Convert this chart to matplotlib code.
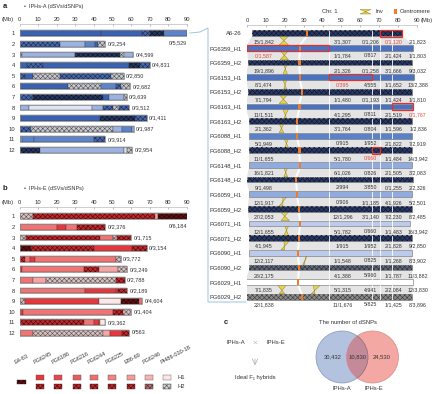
import matplotlib
matplotlib.use("Agg")
import matplotlib.pyplot as plt
from matplotlib.patches import Polygon, Rectangle, Circle

plt.rcParams['font.family'] = ['Liberation Sans', 'DejaVu Sans']
plt.rcParams['hatch.linewidth'] = 0.4

# ---------------- data ----------------
A_ENDS = [[44, 66, 70, 77.5, 90], [22, 35, 40.5, 42, 46], [1.4, 30, 54, 56, 61],
          [4, 12.7, 59, 65, 70], [3, 7.5, 22, 49, 56], [26, 44, 52, 54.5, 59.5],
          [7.5, 45, 48, 56, 57.5], [5, 39, 45, 50, 53.5, 59], [1, 43.5, 62, 68.5],
          [6, 50, 55, 60.5, 61.5], [1.4, 8, 40, 46], [11, 56, 58, 60.5]]
A_CODES = [list("DDBXM"), list("BLMDG"), list("GLXGL"), list("DBDXB"), list("BDGBG"),
           list("DGMBG"), list("BXDLG"), list("LWLBGB"), list("LDXB"), list("BGLML"),
           list("LMMB"), list("XLWG")]
A_LABELS = ["0/5,529", "0/3,254", "0/4,599", "0/4,831", "0/2,850", "0/2,682",
            "0/3,639", "0/3,512", "0/1,411", "0/1,987", "0/3,914", "0/2,954"]

B_ENDS = [[7.5, 72.8, 74.5, 90], [20, 25, 31, 36, 46], [3.7, 43, 50, 52.5, 60],
          [6, 40, 60.5, 68.5], [3, 5.8, 8.4, 52, 54.5], [1.4, 34.6, 42.5, 53, 58],
          [7.5, 14.5, 52, 56.5], [35, 52, 53, 58], [3, 42.5, 54.7, 64.3, 66],
          [2, 50, 55.6, 60], [34.6, 40, 42.5, 43.4, 46], [7, 45, 48.5, 55, 59]]
B_CODES = [list("GHPK"), list("SRSHH"), list("GHSGH"), list("KHRH"), list("HSRSG"),
           list("RSHPG"), list("SPGH"), list("SRRH"), list("GRWKS"), list("RSHG"),
           list("HSRSW"), list("SGPRH")]
B_LABELS = ["0/6,184", "0/2,376", "0/1,715", "0/3,154", "0/3,772", "0/3,249",
            "0/2,788", "0/2,189", "0/4,604", "0/1,404", "0/3,362", "0/563"]

LEG_NAMES = ["E4-63", "PG6245", "PG6186", "PG6216", "PG6244", "PG6225",
             "E86-69", "PG6246", "PI486-030-18"]

R_NAMES = ["A6-26", "PG6359_H1", "PG6359_H2", "PG6153_H1", "PG6153_H2", "PG6163_H1",
           "PG6163_H2", "PG6088_H1", "PG6088_H2", "PG6148_H1", "PG6148_H2", "PG6059_H1",
           "PG6059_H2", "PG6071_H1", "PG6071_H2", "PG6090_H1", "PG6090_H2", "PG6029_H1",
           "PG6029_H2"]
R_CODE = ["X", "M", "X", "M", "X", "M", "X", "M2", "X", "L", "X", "L", "X", "LL", "X",
          "LL", "GX", "WH", "GG"]
R_START = [2.6, 0, 0.5, -0.5, 0.5, -0.5, 1, 1, 1, 1, 0, 1, 0.5, 1, 1, 1, 1, -0.5, 0]
R_END = [82.3, 88, 87.5, 88.5, 87.5, 88, 87.5, 87.3, 87.3, 87.3, 88, 87.3, 87.3, 86.5,
         87.3, 87.3, 87.3, 88, 87.3]
R_CEN = [31.7, 28, 27.7, 28, 29, 27.7, 26.5, 26.5, 27.7, 28, 26, 26.5, 27.5, 28, 27.5,
         27, 27.5, 27, 29]
R_BREAKS = [43.5, 66, 70.5, 76.5]
R_TEXT = [["15/1,842", "3/1,307", "0/1,206", "0/1,120", "2/1,823"],
          ["0/1,587", "1/1,784", "0/817", "2/1,424", "1/1,803"],
          ["19/1,896", "2/1,326", "0/1,258", "3/1,666", "9/3,032"],
          ["8/1,474", "0/395", "4/555", "1/1,652", "13/2,388"],
          ["7/1,794", "1/1,480", "0/1,193", "1/1,424", "1/1,810"],
          ["11/1,511", "4/1,295", "0/811", "2/1,519", "0/1,767"],
          ["2/1,362", "3/1,764", "0/804", "1/1,596", "1/2,836"],
          ["5/1,949", "0/915", "1/952", "2/1,822", "7/2,919"],
          ["11/1,655", "5/1,780", "0/660", "1/1,484", "14/3,942"],
          ["16/1,821", "6/1,026", "0/826", "2/1,505", "3/2,083"],
          ["9/1,498", "2/994", "3/850", "0/1,255", "2/2,326"],
          ["12/1,917", "0/906", "1/1,185", "4/1,926", "5/2,501"],
          ["27/2,053", "12/1,296", "3/1,140", "7/2,230", "8/2,485"],
          ["12/1,655", "5/1,782", "0/660", "1/1,483", "16/3,942"],
          ["4/1,945", "1/915", "1/952", "2/1,828", "9/2,850"],
          ["12/2,117", "1/1,548", "0/825", "1/1,268", "8/3,902"],
          ["28/2,175", "4/1,388", "5/960", "1/1,787", "11/3,882"],
          ["7/1,835", "5/1,315", "4/941", "2/2,084", "12/3,830"],
          ["22/1,838", "11/1,676", "5/825", "1/1,425", "8/3,896"]]
R_TEXT_X = [9, 50.5, 65.5, 77.5, 90.5]
R_RED_TEXT = [(0, 3), (1, 0), (3, 1), (5, 4), (8, 2)]
R_BOXES = [(0, 70.5, 82.3), (1, 0, 43.5), (3, 43.5, 66), (5, 76.5, 88), (8, 66, 70.5)]
INV = [(0, 17, 22, 17, 22), (1, 17.5, 22, 17.5, 22), (2, 19.5, 21, 19, 21.5),
       (3, 19, 21, 19.5, 21), (4, 17, 21.5, 17, 21.5), (5, 19, 22, 19.5, 21),
       (6, 17, 19.5, 17, 19.5), (7, 19.5, 22, 20, 22), (9, 19.5, 21.5, 19.5, 21.5),
       (11, 19, 21, 17, 19), (12, 17.5, 22, 18, 22.5), (13, 20, 22, 19.5, 22),
       (14, 19.5, 22.5, 18, 20), (15, 31, 32, 29.5, 30.5), (17, 16, 21, 17, 20),
       (17, 35, 39, 34, 36)]

VENN_A, VENN_AB, VENN_B = "30,432", "10,830", "24,530"

# ---------------- styles ----------------
STY_A = {'D': ('#3a62b0', None), 'M': ('#5d84c9', None), 'L': ('#9cb3e1', None),
         'W': ('#dde4f4', None), 'X': ('#27375f', '#0b1226'), 'B': ('#4667ab', '#1b2a52'),
         'G': ('#c9cad0', '#4d4d55')}
STY_B = {'K': ('#5e1010', '#260404'), 'R': ('#e5383d', None), 'S': ('#f07474', None),
         'P': ('#f6a5a5', None), 'W': ('#fde8e8', None), 'H': ('#c0282d', '#4a0808'),
         'G': ('#d8c2c2', '#5e4e4e')}
STY_R = {'X': ('#2b3a63', '#0e1630'), 'M': ('#4a72c0', None), 'M2': ('#5b82c8', None),
         'L': ('#8fabe0', None), 'LL': ('#bccbec', None), 'GX': ('#5e6577', '#2a2d36'),
         'WH': ('#ffffff', None), 'GG': ('#8a8a8a', '#3a3a3a')}
HATCH = 'xxxxxxx'
TXT = '#333333'

W, H = 445, 394
fig = plt.figure(figsize=(W / 100, H / 100), dpi=100)


def rect(x0, y0, x1, y1):
    return [x0 / W, 1 - y1 / H, (x1 - x0) / W, (y1 - y0) / H]


def seg_bar(ax, y, left, width, fc, hc, h, z=3, ec='#333333', lw=0.25):
    ax.barh(y, width, left=left, height=h, color=fc, edgecolor=ec, linewidth=lw, zorder=z)
    if hc:
        ax.barh(y, width, left=left, height=h, color='none', edgecolor=hc,
                hatch=HATCH, linewidth=0, zorder=z + 0.1)


def karyo_panel(ax, ends_list, codes_list, labels, sty):
    h = 0.55
    for r, (ends, codes, lab) in enumerate(zip(ends_list, codes_list, labels), start=1):
        lefts = [0] + ends[:-1]
        for l, e, c in zip(lefts, ends, codes):
            fc, hc = sty[c]
            seg_bar(ax, r, l, e - l, fc, hc, h)
        ax.barh(r, ends[-1], left=0, height=h, color='none', edgecolor='#8a8a8a',
                linewidth=0.5, zorder=4)
        if ends[-1] >= 85:
            ax.text(ends[-1], r + 0.85, lab, ha='right', va='center', fontsize=4, color=TXT)
        else:
            ax.text(ends[-1] + 1.2, r, lab, ha='left', va='center', fontsize=4, color=TXT)
    ax.set_xlim(0, 90)
    ax.set_ylim(12.6, 0.5)
    ax.set_yticks(range(1, 13))
    ax.set_yticklabels([str(i) for i in range(1, 13)], fontsize=4.2, color=TXT)
    ax.tick_params(axis='y', length=0, pad=3.2)
    ax.xaxis.tick_top()
    ax.set_xticks(range(0, 91, 10))
    ax.tick_params(axis='x', labelsize=4.2, labelcolor=TXT, direction='in', length=1.5,
                   width=0.4, color='#888888', pad=1.6)
    for s in ['left', 'right', 'bottom']:
        ax.spines[s].set_visible(False)
    ax.spines['top'].set_position(('outward', 3))
    ax.spines['top'].set_linewidth(0.4)
    ax.spines['top'].set_color('#aaaaaa')
    ax.patch.set_alpha(0)


# ---------- panel a / b ----------
ax_a = fig.add_axes(rect(19.5, 28.0, 187, 156.3))
karyo_panel(ax_a, A_ENDS, A_CODES, A_LABELS, STY_A)
ax_b = fig.add_axes(rect(19.5, 211.0, 187, 339.3))
karyo_panel(ax_b, B_ENDS, B_CODES, B_LABELS, STY_B)

# ---------- right panel ----------
n = len(R_NAMES)
ax_r = fig.add_axes(rect(247, 25.25, 417, 311.3))
hr = 0.39
for i in range(n - 1):
    y0, y1 = i + hr / 2, i + 1 - hr / 2
    ax_r.add_patch(Polygon([(R_START[i], y0), (R_END[i], y0), (R_END[i + 1], y1),
                            (R_START[i + 1], y1)], closed=True, fc='#e4e4e4',
                           ec='none', zorder=1))
    ax_r.plot([R_CEN[i], R_CEN[i + 1]], [y0, y1], color='white', lw=1.4, zorder=1.5)
    for bp in R_BREAKS:
        ax_r.plot([bp, bp], [y0, y1], color='white', lw=0.6, zorder=1.5)
for g, ta, tb, ba, bb in INV:
    y0, y1 = g + hr / 2, g + 1 - hr / 2
    ax_r.add_patch(Polygon([(ta, y0), (tb, y0), (ba, y1), (bb, y1)], closed=True,
                           fc='#e6d14a', ec='#8c7c1c', lw=0.3, zorder=2))
for i in range(n):
    fc, hc = STY_R[R_CODE[i]]
    seg_bar(ax_r, i, R_START[i], R_END[i] - R_START[i], fc, hc, hr,
            ec='#7a7a7a', lw=0.45)
    for bp in R_BREAKS:
        if R_START[i] < bp < R_END[i]:
            ax_r.plot([bp, bp], [i - hr / 2 + 0.02, i + hr / 2 - 0.02], color='white',
                      lw=0.6, zorder=3.5)
    ax_r.barh(i, 1.3, left=R_CEN[i] - 0.65, height=hr, color='#f07c2a', lw=0, zorder=4)
    for j, (txt, x) in enumerate(zip(R_TEXT[i], R_TEXT_X)):
        col = '#e8453c' if (i, j) in R_RED_TEXT else TXT
        ax_r.text(x, i + 0.55, txt, ha='center', va='center', fontsize=3.8, color=col,
                  zorder=5)
for i, x0, x1 in R_BOXES:
    ax_r.add_patch(Rectangle((x0, i - hr / 2 - 0.03), x1 - x0, hr + 0.06, fill=False,
                             ec='#e8302a', lw=0.9, zorder=6))
ax_r.set_xlim(0, 90)
ax_r.set_ylim(19.0, -0.55)
ax_r.set_yticks(range(n))
ax_r.set_yticklabels(R_NAMES, fontsize=4.2, color=TXT)
ax_r.tick_params(axis='y', length=0, pad=3.6)
ax_r.xaxis.tick_top()
ax_r.set_xticks(range(0, 91, 10))
ax_r.tick_params(axis='x', labelsize=4.2, labelcolor=TXT, direction='in', length=1.5,
                 width=0.4, color='#888888', pad=1.6)
for s in ['left', 'right', 'bottom']:
    ax_r.spines[s].set_visible(False)
ax_r.spines['top'].set_linewidth(0.4)
ax_r.spines['top'].set_color('#aaaaaa')
ax_r.patch.set_alpha(0)

# ---------- overlay (annotations, legends, panel c) ----------
ov = fig.add_axes([0, 0, 1, 1])
ov.set_xlim(0, W)
ov.set_ylim(H, 0)
ov.axis('off')
ov.patch.set_alpha(0)

ov.text(3, 6, 'a', fontsize=5.5, fontweight='bold', va='center', color='#222')
ov.text(24, 6, '•  IPHs-A (dSVs/dSNPs)', fontsize=4, va='center', color=TXT)
ov.text(2, 19, '(Mb)', fontsize=4.2, va='center', color=TXT)
ov.text(3, 188, 'b', fontsize=5.5, fontweight='bold', va='center', color='#222')
ov.text(24, 188, '•  IPHs-E (dSVs/dSNPs)', fontsize=4, va='center', color=TXT)
ov.text(2, 202, '(Mb)', fontsize=4.2, va='center', color=TXT)

# connector bracket
ov.plot([190, 200, 208, 208, 246], [33, 32, 28, 302, 302], color='#9cc3e6', lw=0.7)

# right panel legend
ov.text(330, 11.5, 'Chr. 1', fontsize=4.2, ha='center', va='center', color=TXT)
ov.add_patch(Polygon([(360, 9.5), (371, 9.5), (360, 14), (371, 14)], closed=True,
                     fc='#e6d14a', ec='#8c7c1c', lw=0.3))
ov.text(375, 11.5, 'Inv', fontsize=4.2, va='center', color=TXT)
ov.add_patch(Rectangle((393.5, 9.3), 3.2, 4.6, fc='#f07c2a', ec='none'))
ov.text(400, 11.5, 'Centromere', fontsize=4.2, va='center', color=TXT)
ov.text(420.5, 20.5, '(Mb)', fontsize=4.2, va='center', color=TXT)

# panel b legend
leg_x = [17, 36, 54, 73, 90, 108, 127, 145, 163]
h1_cols = [None, '#e5383d', '#e8474b', '#ec5a5d', '#ef6e6e', '#f28383', '#f59a9a',
           '#f7b3b3', '#fde6e6']
h2_sty = [None, STY_B['H'], STY_B['H'], STY_B['H'], STY_B['H'], STY_B['H'], STY_B['H'],
          ('#b07070', '#4a2a2a'), ('#cfcfcf', '#555555')]
for k, (name, x) in enumerate(zip(LEG_NAMES, leg_x)):
    ov.text(x - 1, 365, name, fontsize=4, rotation=28, rotation_mode='anchor',
            ha='left', va='bottom', color=TXT)
    if k == 0:
        ov.add_patch(Rectangle((x, 379.5), 9, 4.6, fc='#5e1010', ec='#333', lw=0.3))
        ov.add_patch(Rectangle((x, 379.5), 9, 4.6, fill=False, ec='#260404', lw=0,
                               hatch=HATCH))
    else:
        ov.add_patch(Rectangle((x, 375), 8, 4.5, fc=h1_cols[k], ec='#555', lw=0.3))
        fc, hc = h2_sty[k]
        ov.add_patch(Rectangle((x, 384), 8, 4.5, fc=fc, ec='#333', lw=0.3))
        ov.add_patch(Rectangle((x, 384), 8, 4.5, fill=False, ec=hc, lw=0, hatch=HATCH))
ov.text(177, 377.3, 'H1', fontsize=4.2, va='center', color=TXT)
ov.text(177, 386.3, 'H2', fontsize=4.2, va='center', color=TXT)

# panel c
ov.text(224, 323, 'c', fontsize=5.5, fontweight='bold', va='center', color='#222')
ov.text(236, 343, 'IPHs-A', fontsize=4.2, ha='center', va='center', color=TXT)
ov.text(255, 343, '×', fontsize=6, ha='center', va='center', color='#bbbbbb')
ov.text(276, 343, 'IPHs-E', fontsize=4.2, ha='center', va='center', color=TXT)
ov.annotate('', xy=(255, 368), xytext=(255, 356),
            arrowprops=dict(arrowstyle='->', color='#aaaaaa', lw=0.5))
ov.text(255, 377, 'Ideal F₁ hybrids', fontsize=4.2, ha='center', va='center', color=TXT)

ov.text(348, 323, 'The number of dSNPs', fontsize=4.2, ha='center', va='center',
        color=TXT)
cl = Circle((342, 357), 26, fc='#b3c3df', ec='#8595b8', lw=0.5)
cr = Circle((372.5, 357), 26, fc='#f4a8a4', ec='#d88985', lw=0.5)
ov.add_patch(cl)
ov.add_patch(cr)
ov_clip = Circle((372.5, 357), 26, transform=ov.transData)
cm = Circle((342, 357), 26, fc='#c48a9a', ec='#8a6a78', lw=0.5)
ov.add_patch(cm)
cm.set_clip_path(ov_clip)
ov.text(333, 357, VENN_A, fontsize=4.2, ha='center', va='center', color=TXT)
ov.text(357.2, 357, VENN_AB, fontsize=4.2, ha='center', va='center', color=TXT)
ov.text(382, 357, VENN_B, fontsize=4.2, ha='center', va='center', color=TXT)
ov.text(342, 388, 'IPHs-A', fontsize=4.2, ha='center', va='center', color=TXT)
ov.text(374, 388, 'IPHs-E', fontsize=4.2, ha='center', va='center', color=TXT)

fig.savefig('out.png', dpi=100)
